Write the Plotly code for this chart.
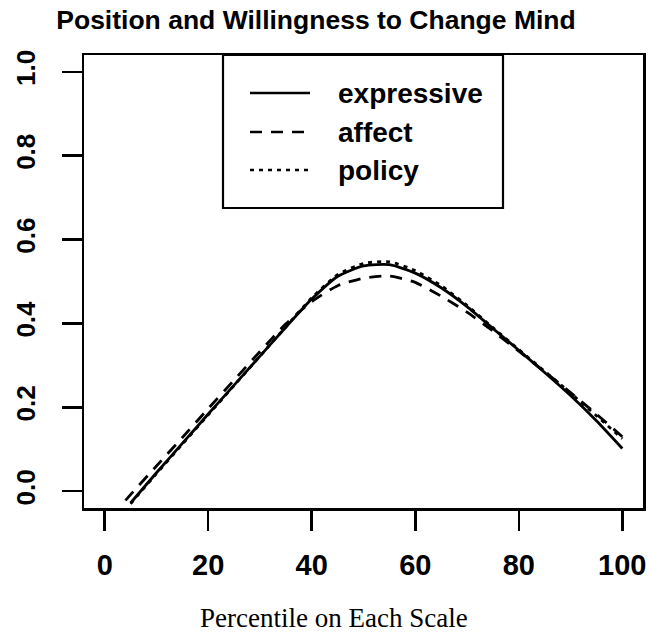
import plotly.graph_objects as go

# ---- data ----
pct = [5, 10, 15, 20, 25, 30, 35, 40, 45, 50, 55, 60, 65, 70, 75, 80, 85, 90, 95, 100]
expressive = [-0.028, 0.044, 0.114, 0.184, 0.253, 0.322, 0.391, 0.458, 0.512, 0.537,
              0.540, 0.520, 0.485, 0.440, 0.388, 0.336, 0.283, 0.228, 0.168, 0.102]
affect_x = [4, 5, 10, 15, 20, 25, 30, 35, 40, 45, 50, 55, 60, 65, 70, 75, 80, 85, 90, 95, 100]
affect = [-0.022, -0.008, 0.060, 0.128, 0.197, 0.265, 0.333, 0.399, 0.452, 0.490, 0.508,
          0.513, 0.498, 0.465, 0.427, 0.382, 0.334, 0.285, 0.235, 0.184, 0.130]
policy = [-0.030, 0.042, 0.112, 0.182, 0.252, 0.322, 0.392, 0.461, 0.516, 0.543,
          0.547, 0.526, 0.490, 0.443, 0.390, 0.338, 0.286, 0.234, 0.180, 0.125]

x_ticks = [0, 20, 40, 60, 80, 100]
y_ticks = [0.0, 0.2, 0.4, 0.6, 0.8, 1.0]
y_tick_text = ["0.0", "0.2", "0.4", "0.6", "0.8", "1.0"]

series = [
    ("expressive", pct, expressive, "solid"),
    ("affect", affect_x, affect, "12px,9px"),
    ("policy", pct, policy, "4px,5px"),
]

W, H = 649, 636
L, R, T, B = 84, 6, 55, 128
PW, PH = W - L - R, H - T - B


def px(xp):  # page pixel -> paper
    return (xp - L) / PW


def py(yp):
    return (H - B - yp) / PH


fig = go.Figure()
for name, xs, ys, dash in series:
    fig.add_trace(go.Scatter(x=xs, y=ys, mode="lines", name=name,
                             line=dict(color="black", width=2.8, dash=dash,
                                       shape="spline", smoothing=0.6),
                             showlegend=False, hoverinfo="skip"))

shapes = []
annotations = []
# legend box
shapes.append(dict(type="rect", xref="paper", yref="paper",
                   x0=px(223), x1=px(503), y0=py(208), y1=py(55),
                   line=dict(color="black", width=2.2), fillcolor="white", layer="above"))
rows = [93, 132, 170]
for (name, _, _, dash), ry in zip(series, rows):
    shapes.append(dict(type="line", xref="paper", yref="paper",
                       x0=px(250), x1=px(310), y0=py(ry), y1=py(ry),
                       line=dict(color="black", width=2.5, dash=dash), layer="above"))
    annotations.append(dict(text=name, xref="paper", yref="paper", x=px(336), y=py(ry),
                            xanchor="left", yanchor="middle", showarrow=False,
                            font=dict(family="Liberation Sans", size=28, color="black",
                                      weight="bold")))

annotations.append(dict(text="Percentile on Each Scale", xref="paper", yref="paper",
                        x=px(334), y=py(618), xanchor="center", yanchor="middle",
                        showarrow=False,
                        font=dict(family="Liberation Serif", size=27, color="black")))

fig.update_layout(
    template="none",
    width=W, height=H,
    margin=dict(l=L, r=R, t=T, b=B, pad=0, autoexpand=False),
    paper_bgcolor="white", plot_bgcolor="white",
    title=dict(text="<b>Position and Willingness to Change Mind</b>",
               xref="container", yref="container", x=316 / W,
               y=1 - 20 / H,
               xanchor="center", yanchor="middle",
               font=dict(family="Liberation Sans", size=26.5, color="black")),
    shapes=shapes, annotations=annotations,
    showlegend=False,
)
fig.update_xaxes(range=[-4, 104], tickvals=x_ticks, ticktext=[str(v) for v in x_ticks],
                 automargin=False,
                 showgrid=False, zeroline=False, showline=True, mirror=True,
                 linecolor="black", linewidth=2.5, ticks="outside", ticklen=20,
                 tickwidth=2.5, tickcolor="black", ticklabelstandoff=10,
                 tickfont=dict(family="Liberation Sans", size=29, color="black",
                               weight="bold"))
fig.update_yaxes(range=[-0.04, 1.04], tickvals=y_ticks, ticktext=y_tick_text,
                 automargin=False,
                 showgrid=False, zeroline=False, showline=True, mirror=True,
                 linecolor="black", linewidth=2.5, ticks="outside", ticklen=20,
                 tickwidth=2.5, tickcolor="black", tickangle=-90, ticklabelstandoff=16,
                 tickfont=dict(family="Liberation Sans", size=26, color="black",
                               weight="bold"))

fig.write_html("out.html",
               config={"displayModeBar": False, "staticPlot": True},
               post_script="document.body.style.margin='0';"
                           "document.body.style.overflow='hidden';")
